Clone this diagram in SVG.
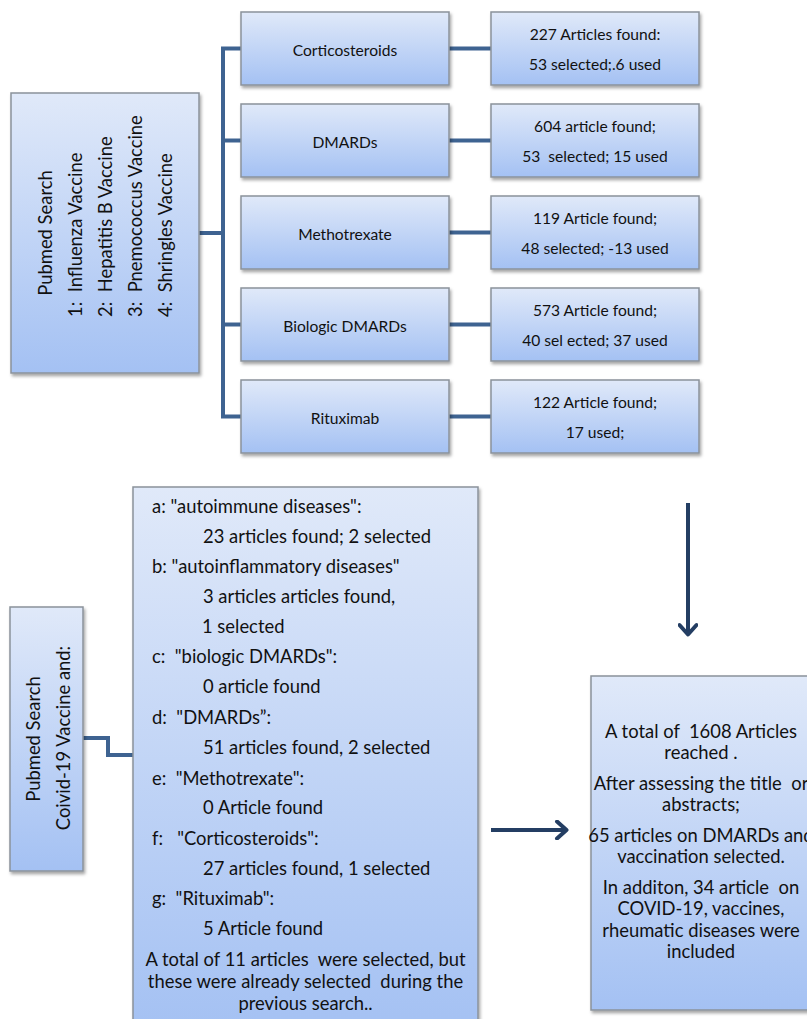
<svg xmlns="http://www.w3.org/2000/svg" width="807" height="1019" viewBox="0 0 807 1019">
<defs>
<linearGradient id="g" x1="0" y1="0" x2="0" y2="1">
<stop offset="0" stop-color="#e0e9f9"/>
<stop offset="1" stop-color="#a4c1f3"/>
</linearGradient>
<filter id="sh" x="-10%" y="-10%" width="130%" height="130%">
<feDropShadow dx="1.5" dy="2.5" stdDeviation="1.5" flood-color="#000" flood-opacity="0.35"/>
</filter>
<marker id="ah" viewBox="0 0 20 20" refX="14" refY="10" markerWidth="5" markerHeight="5" orient="auto" markerUnits="strokeWidth">
<path d="M5,1.5 L14.5,10 L5,18.5" fill="none" stroke="#243e63" stroke-width="4" stroke-linecap="round" stroke-linejoin="round"/>
</marker>
</defs>
<style>
.box{fill:url(#g);stroke:#8b929b;stroke-width:1.5;filter:url(#sh)}
.t{font-family:Lato,"Liberation Sans",sans-serif;font-size:18.4px;fill:#111;white-space:pre}
.s{font-size:15.6px}
.c{text-anchor:middle}
.con{fill:none;stroke:#3e6391;stroke-width:4}
.arr{fill:none;stroke:#243e63;stroke-width:4}
</style>
<g id="connectors">
<polyline class="con" points="199,233 223,233"/>
<polyline class="con" points="241,48.5 223,48.5 223,416.5 241,416.5"/>
<line class="con" x1="223" y1="140.5" x2="241" y2="140.5"/>
<line class="con" x1="223" y1="324.5" x2="241" y2="324.5"/>
<line class="con" x1="449" y1="48.5" x2="491" y2="48.5"/>
<line class="con" x1="449" y1="140.5" x2="491" y2="140.5"/>
<line class="con" x1="449" y1="232.5" x2="491" y2="232.5"/>
<line class="con" x1="449" y1="324.5" x2="491" y2="324.5"/>
<line class="con" x1="449" y1="416.5" x2="491" y2="416.5"/>
<polyline class="con" points="83,738 108,738 108,755 133,755"/>
<line class="arr" x1="688" y1="503" x2="688" y2="634" marker-end="url(#ah)"/>
<line class="arr" x1="491" y1="830" x2="566" y2="830" marker-end="url(#ah)"/>
</g>
<g id="pubmed1">
<rect class="box" x="11" y="93" width="188" height="280"/>
<text class="t c" transform="translate(51.5,233) rotate(-90)">Pubmed Search</text>
<text class="t" transform="translate(82,317) rotate(-90)">1:  Influenza Vaccine</text>
<text class="t" transform="translate(111.5,317) rotate(-90)">2:  Hepatitis B Vaccine</text>
<text class="t" transform="translate(141.5,317) rotate(-90)">3:  Pnemococcus Vaccine</text>
<text class="t" transform="translate(171.5,317) rotate(-90)">4:  Shringles Vaccine</text>
</g>
<g id="cortico">
<rect class="box" x="241" y="12" width="208" height="73"/>
<text class="t s c" x="345" y="55.5">Corticosteroids</text>
</g>
<g id="dmards">
<rect class="box" x="241" y="104" width="208" height="73"/>
<text class="t s c" x="345" y="147.5">DMARDs</text>
</g>
<g id="mtx">
<rect class="box" x="241" y="196" width="208" height="73"/>
<text class="t s c" x="345" y="239.5">Methotrexate</text>
</g>
<g id="bdmards">
<rect class="box" x="241" y="288" width="208" height="73"/>
<text class="t s c" x="345" y="331.5">Biologic DMARDs</text>
</g>
<g id="ritux">
<rect class="box" x="241" y="380" width="208" height="73"/>
<text class="t s c" x="345" y="423.5">Rituximab</text>
</g>
<g id="r1">
<rect class="box" x="491" y="12" width="208" height="73"/>
<text class="t s c" x="595" y="39.5">227 Articles found:</text>
<text class="t s c" x="595" y="70">53 selected;.6 used</text>
</g>
<g id="r2">
<rect class="box" x="491" y="104" width="208" height="73"/>
<text class="t s c" x="595" y="131.5">604 article found;</text>
<text class="t s c" x="595" y="162">53  selected; 15 used</text>
</g>
<g id="r3">
<rect class="box" x="491" y="196" width="208" height="73"/>
<text class="t s c" x="595" y="223.5">119 Article found;</text>
<text class="t s c" x="595" y="254">48 selected; -13 used</text>
</g>
<g id="r4">
<rect class="box" x="491" y="288" width="208" height="73"/>
<text class="t s c" x="595" y="315.5">573 Article found;</text>
<text class="t s c" x="595" y="346">40 sel ected; 37 used</text>
</g>
<g id="r5">
<rect class="box" x="491" y="380" width="208" height="73"/>
<text class="t s c" x="595" y="407.5">122 Article found;</text>
<text class="t s c" x="595" y="438">17 used;</text>
</g>
<g id="pubmed2">
<rect class="box" x="10" y="607" width="73" height="264"/>
<text class="t c" transform="translate(39.5,739) rotate(-90)">Pubmed Search</text>
<text class="t c" transform="translate(69.5,738) rotate(-90)">Coivid-19 Vaccine and:</text>
</g>
<g id="terms">
<rect class="box" x="133" y="487" width="345" height="545"/>
<text class="t" x="152" y="513">a: "autoimmune diseases":</text>
<text class="t" x="203" y="543">23 articles found; 2 selected</text>
<text class="t" x="152" y="572.5">b: "autoinflammatory diseases"</text>
<text class="t" x="203" y="603">3 articles articles found,</text>
<text class="t" x="202" y="632.5">1 selected</text>
<text class="t" x="152" y="663">c:  "biologic DMARDs":</text>
<text class="t" x="203" y="693">0 article found</text>
<text class="t" x="152" y="724">d:  "DMARDs”:</text>
<text class="t" x="203" y="753.5">51 articles found, 2 selected</text>
<text class="t" x="152" y="784.5">e:  "Methotrexate":</text>
<text class="t" x="203" y="814">0 Article found</text>
<text class="t" x="152" y="844.5">f:   "Corticosteroids":</text>
<text class="t" x="203" y="874.5">27 articles found, 1 selected</text>
<text class="t" x="152" y="905">g:  "Rituximab":</text>
<text class="t" x="203" y="935">5 Article found</text>
<text class="t c" x="305.5" y="965.5">A total of 11 articles  were selected, but</text>
<text class="t c" x="305.5" y="987.5">these were already selected  during the</text>
<text class="t c" x="305.5" y="1009.5">previous search..</text>
</g>
<g id="total">
<rect class="box" x="591" y="676" width="222" height="334"/>
<text class="t c" x="701" y="737.5">A total of  1608 Articles</text>
<text class="t c" x="701" y="759">reached .</text>
<text class="t c" x="701" y="789.5">After assessing the title  or</text>
<text class="t c" x="701" y="811">abstracts;</text>
<text class="t c" x="701" y="841.5">65 articles on DMARDs and</text>
<text class="t c" x="701" y="863">vaccination selected.</text>
<text class="t c" x="701" y="893.5">In additon, 34 article  on</text>
<text class="t c" x="701" y="915">COVID-19, vaccines,</text>
<text class="t c" x="701" y="936.5">rheumatic diseases were</text>
<text class="t c" x="701" y="958">included</text>
</g>
</svg>
